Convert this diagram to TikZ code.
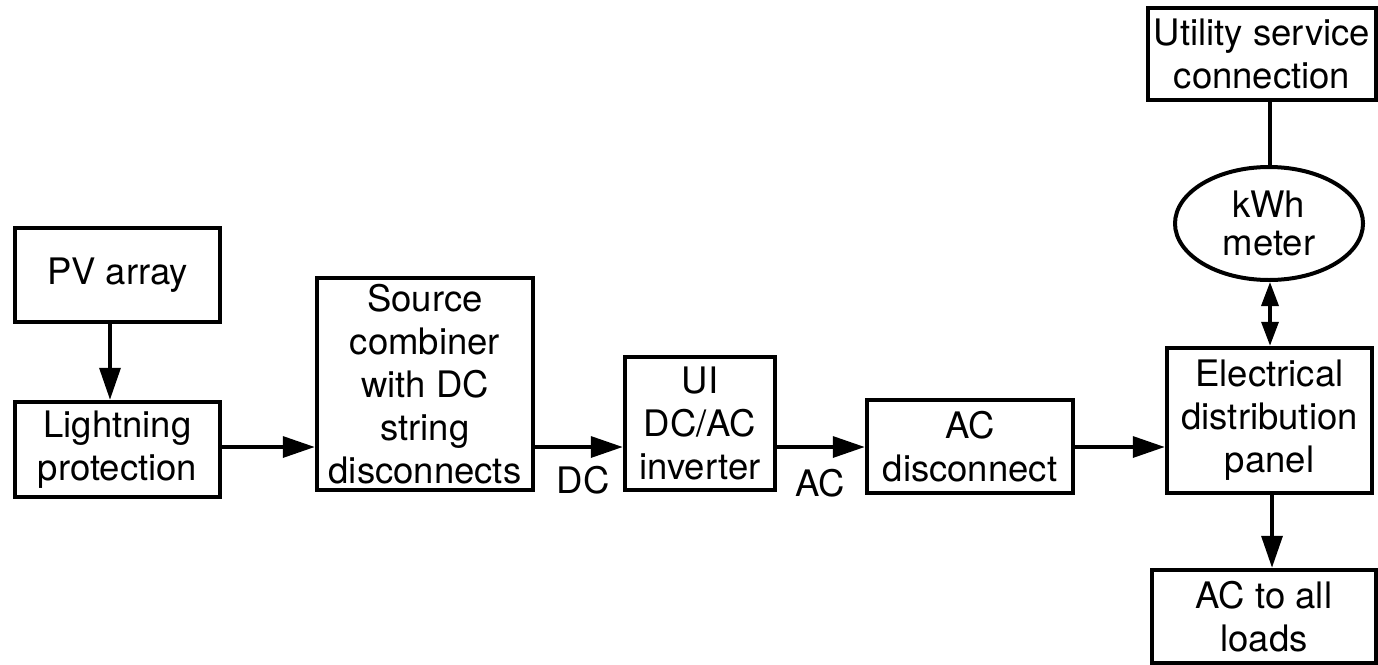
\documentclass[tikz,border=0pt]{standalone}
\usepackage{fontspec}
\setmainfont{TeX Gyre Heros}
\usetikzlibrary{arrows.meta,shapes.geometric}
\tikzset{
  blk/.style={draw, line width=4.5pt, rectangle, align=center, inner sep=0pt,
    font=\fontsize{36.5}{43}\selectfont},
  oval/.style={draw, line width=4pt, ellipse, align=center, inner sep=0pt,
    font=\fontsize{36.5}{38}\selectfont},
  lbl/.style={font=\fontsize{36.5}{43}\selectfont, inner sep=0pt},
  conn/.style={line width=3.5pt, -{Triangle[length=32pt,width=21pt]}},
  dconn/.style={line width=3.5pt, {Triangle[length=24pt,width=17pt]}-{Triangle[length=24pt,width=17pt]}},
  plain/.style={line width=3.5pt}
}
\begin{document}
\begin{tikzpicture}[x=1pt,y=-1pt]
\useasboundingbox (0,0) rectangle (1378,664);
\node[blk, minimum width=205pt, minimum height=94pt] (pv) at (117.5,275) {PV array};
\node[blk, minimum width=205pt, minimum height=95pt] (lp) at (117.5,449.5) {Lightning\\protection};
\node[blk, minimum width=216pt, minimum height=212pt] (comb) at (425,384) {Source\\combiner\\with DC\\string\\disconnects};
\node[blk, minimum width=150pt, minimum height=133pt] (inv) at (700,423.5) {UI\\DC/AC\\inverter};
\node[blk, minimum width=206pt, minimum height=93pt] (acd) at (970,446.5) {AC\\disconnect};
\node[blk, minimum width=205pt, minimum height=145pt] (panel) at (1269.5,420.5) {Electrical\\distribution\\panel};
\node[oval, minimum width=188pt, minimum height=113pt] (meter) at (1269,223.5) {kWh\\meter};
\node[blk, minimum width=228pt, minimum height=92pt] (util) at (1262,54) {Utility service\\connection};
\node[blk, minimum width=224pt, minimum height=93pt] (loads) at (1264,616.5) {AC to all\\loads};
\node[lbl] (dc) at (583,480) {DC};
\node[lbl] (ac) at (820,483) {AC};
\coordinate (row) at (0,447);
\coordinate (colA) at (110,0);
\coordinate (colB) at (1270,0);
\coordinate (colC) at (1272,0);
\draw[conn] (pv.south -| colA) -- (lp.north -| colA);
\draw[conn] (lp.east |- row) -- (comb.west |- row);
\draw[conn] (comb.east |- row) -- (inv.west |- row);
\draw[conn] (inv.east |- row) -- (acd.west |- row);
\draw[conn] (acd.east |- row) -- (panel.west |- row);
\draw[plain] (util.south -| colB) -- (meter.north -| colB);
\draw[dconn] (meter.south -| colB) -- (panel.north -| colB);
\draw[conn] (panel.south -| colC) -- (loads.north -| colC);
\end{tikzpicture}
\end{document}
